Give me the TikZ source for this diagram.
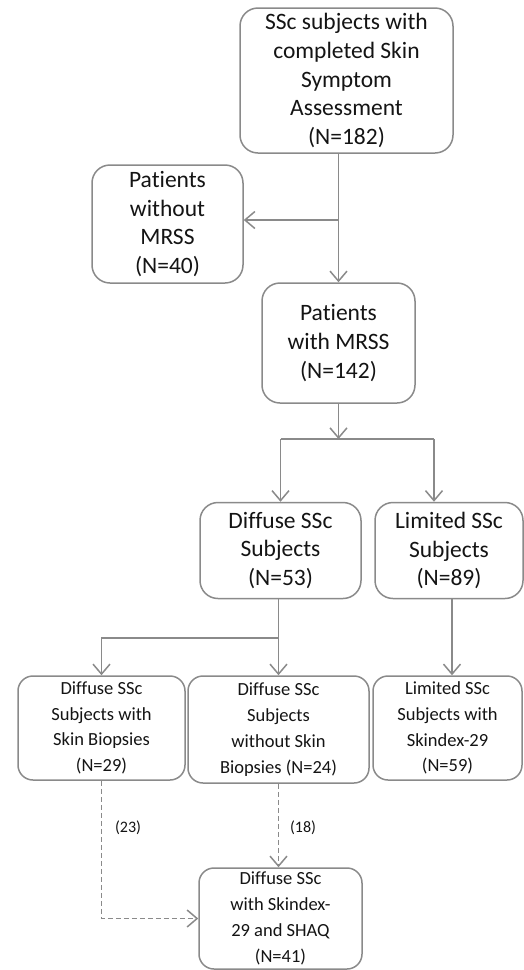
\documentclass[tikz,border=0pt]{standalone}
\usepackage{fontspec}
\setmainfont{Carlito}[Ligatures=NoCommon]
\usetikzlibrary{arrows.meta}
\definecolor{lc}{HTML}{8A8A8A}
\definecolor{tc}{HTML}{141414}
\tikzset{
  bigbox/.style={draw=lc, line width=1.5pt, rounded corners=18pt, align=center, inner sep=0pt, text=tc,
     font=\fontsize{23.5}{28.8}\selectfont},
  smallbox/.style={draw=lc, line width=1.5pt, rounded corners=15pt, align=center, inner sep=0pt, text=tc,
     font=\fontsize{18.5}{25.8}\selectfont},
  conn/.style={draw=lc, line width=1.5pt},
  arr/.style={conn, -{Straight Barb[length=10pt,width=17pt]}},
  darr/.style={arr, dash pattern=on 5pt off 3pt},
  lab/.style={text=tc, font=\fontsize{16}{18}\selectfont, inner sep=0pt}
}
\begin{document}
\begin{tikzpicture}[x=1pt,y=-1pt]
\useasboundingbox (0,0) rectangle (524,970);
\node[bigbox, minimum width=213pt, minimum height=145pt] (n1) at (346.5,80.5)
  {SSc subjects with\\completed Skin\\Symptom\\Assessment\\(N=182)};
\node[bigbox, minimum width=151pt, minimum height=118pt] (n2) at (167.5,224)
  {Patients\\without\\MRSS\\(N=40)};
\node[bigbox, minimum width=153pt, minimum height=120pt] (n3) at (338.5,343)
  {Patients\\with MRSS\\(N=142)};
\node[bigbox, minimum width=161pt, minimum height=96pt] (n4) at (280.5,550.5)
  {Diffuse SSc\\Subjects\\(N=53)};
\node[bigbox, minimum width=148pt, minimum height=96pt] (n5) at (449,550.5)
  {Limited SSc\\Subjects\\(N=89)};
\node[smallbox, minimum width=167pt, minimum height=104pt] (n6) at (101.5,728)
  {Diffuse SSc\\Subjects with\\Skin Biopsies\\(N=29)};
\node[smallbox, minimum width=181pt, minimum height=107pt] (n7) at (278.5,729.5)
  {Diffuse SSc\\Subjects\\without Skin\\Biopsies (N=24)};
\node[smallbox, minimum width=149pt, minimum height=104pt] (n8) at (447.5,728)
  {Limited SSc\\Subjects with\\Skindex-29\\(N=59)};
\node[smallbox, minimum width=163pt, minimum height=101pt] (n9) at (280.5,918.5)
  {Diffuse SSc\\with Skindex-\\29 and SHAQ\\(N=41)};
\coordinate (c1) at (338.5,220);
\coordinate (c2) at (338.5,439);
\coordinate (c3) at (434,439);
\coordinate (c4) at (278.5,638);
\coordinate (c5) at (452,620);
% connectors
\draw[arr] (n1.south -| n3.north) -- (n3.north);
\draw[arr] (c1) -- (n2.east |- c1);
\draw[arr] (n3.south) -- (c2);
\draw[conn] (n4.north |- c2) -- (c3);
\draw[arr] (n4.north |- c2) -- (n4.north);
\draw[arr] (c3) -- (c3 |- n5.north);
\draw[arr] (n4.south -| c4) -- (n7.north);
\draw[arr] (c4) -| (n6.north);
\draw[arr] (n5.south -| c5) -- (n8.north -| c5);
\draw[darr] (n6.south) |- (n9.west);
\draw[darr] (n7.south) -- (n7.south |- n9.north);
\node[lab] (l23) at (128,828) {(23)};
\node[lab] (l18) at (303,828) {(18)};
\end{tikzpicture}
\end{document}
